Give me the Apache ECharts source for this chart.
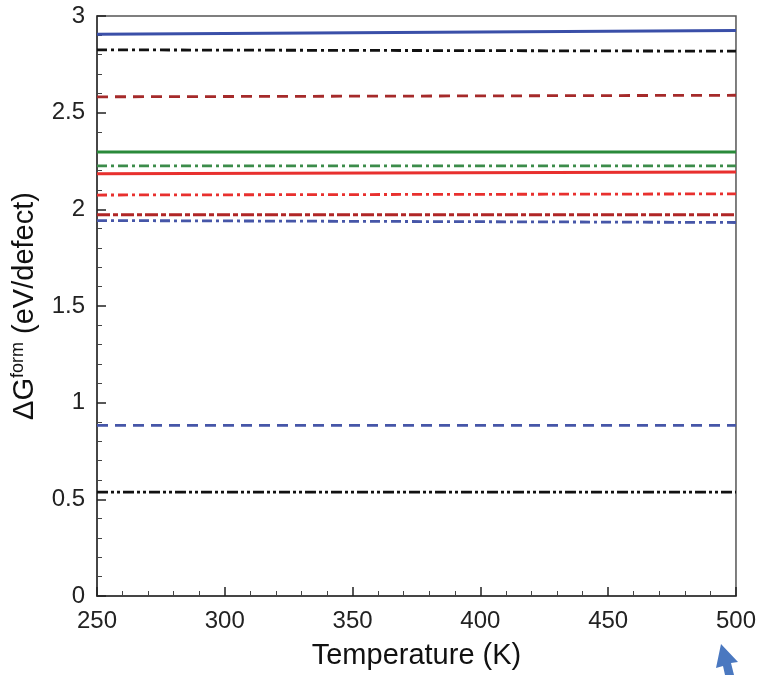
<!DOCTYPE html>
<html>
<head>
<meta charset="utf-8">
<script src="https://cdn.jsdelivr.net/npm/echarts@6/dist/echarts.min.js"></script>
<style>html,body{margin:0;padding:0;background:#fff}#c{width:759px;height:675px}</style>
</head>
<body>
<div id="c"></div>
<script>
const temps = [250, 500];
const blueSolid = [2.905, 2.925];
const blackDashDot = [2.825, 2.818];
const darkRedDashed = [2.582, 2.590];
const greenSolid = [2.297, 2.297];
const greenDashDot = [2.225, 2.225];
const redSolid = [2.184, 2.193];
const redDashDot = [2.074, 2.080];
const darkRedDashDot = [1.972, 1.972];
const blueDashDot = [1.942, 1.932];
const blueDashed = [0.883, 0.883];
const blackDashDotDot = [0.537, 0.537];

const xTicks = [250, 300, 350, 400, 450, 500];
const yTicks = [0, 0.5, 1, 1.5, 2, 2.5, 3];

function pts(vals){ return temps.map((t,i)=>[t, vals[i]]); }
function s(name, vals, color, type, width){
  return {name, type:'line', data:pts(vals), symbol:'none', silent:true,
    lineStyle:{color, width: width||2.8, type}};
}
const DD = [10,4,3,4];
const DDD = [11,3,3,3,3,3];
const chart = echarts.init(document.getElementById('c'), null, {renderer:'canvas'});
chart.setOption({
  animation:false,
  backgroundColor:'#fff',
  grid:{left:97, right:22, top:16, bottom:78, show:true, borderColor:'#555', borderWidth:1.5, backgroundColor:'transparent'},
  xAxis:{type:'value', min:250, max:500, interval:50,
    name:'Temperature (K)', nameLocation:'middle', nameGap:45,
    nameTextStyle:{fontFamily:'Liberation Sans', fontSize:29, color:'#111'},
    axisLine:{lineStyle:{color:'#333', width:1.5}},
    axisTick:{inside:true, length:9, lineStyle:{color:'#222', width:1.5}},
    minorTick:{show:true, splitNumber:5, length:5, lineStyle:{color:'#444'}},
    axisLabel:{fontFamily:'Liberation Sans', fontSize:24, color:'#222', margin:13,
      formatter:v=> xTicks.includes(v)? String(v):''},
    splitLine:{show:false}},
  yAxis:{type:'value', min:0, max:3, interval:0.5,
    name:'{a|ΔG}{s|form}{a| (eV/defect)}', nameLocation:'middle', nameGap:56, nameRotate:90,
    nameTextStyle:{rich:{a:{fontFamily:'Liberation Sans', fontSize:29, color:'#111'},
      s:{fontFamily:'Liberation Sans', fontSize:18, color:'#111', verticalAlign:'top', padding:[0,0,14,0]}}},
    axisLine:{lineStyle:{color:'#333', width:1.5}},
    axisTick:{inside:true, length:9, lineStyle:{color:'#222', width:1.5}},
    minorTick:{show:true, splitNumber:5, length:5, lineStyle:{color:'#444'}},
    axisLabel:{fontFamily:'Liberation Sans', fontSize:24, color:'#222', margin:12,
      formatter:v=> yTicks.includes(v)? String(v):''},
    splitLine:{show:false}},
  series:[
    s('blueSolid', blueSolid, '#3a4fa8', 'solid', 3),
    s('blackDashDot', blackDashDot, '#111', DD),
    s('darkRedDashed', darkRedDashed, '#a52a2a', [11,7]),
    s('greenSolid', greenSolid, '#2a8a3a', 'solid', 3),
    s('greenDashDot', greenDashDot, '#3c8c4a', DD),
    s('redSolid', redSolid, '#e8302e', 'solid', 3),
    s('redDashDot', redDashDot, '#e8302e', DD),
    s('darkRedDashDot', darkRedDashDot, '#b02626', [13,3,5,3]),
    s('blueDashDot', blueDashDot, '#4656a8', DD),
    s('blueDashed', blueDashed, '#4656a8', [11,7]),
    s('blackDashDotDot', blackDashDotDot, '#111', DDD)
  ],
  graphic:[{type:'polygon', shape:{points:[[721,644],[716,668],[723,666],[725,675],[734,675],[731,663],[738,662]]},
    style:{fill:'#4a78c0'}}]
});
</script>
</body>
</html>
